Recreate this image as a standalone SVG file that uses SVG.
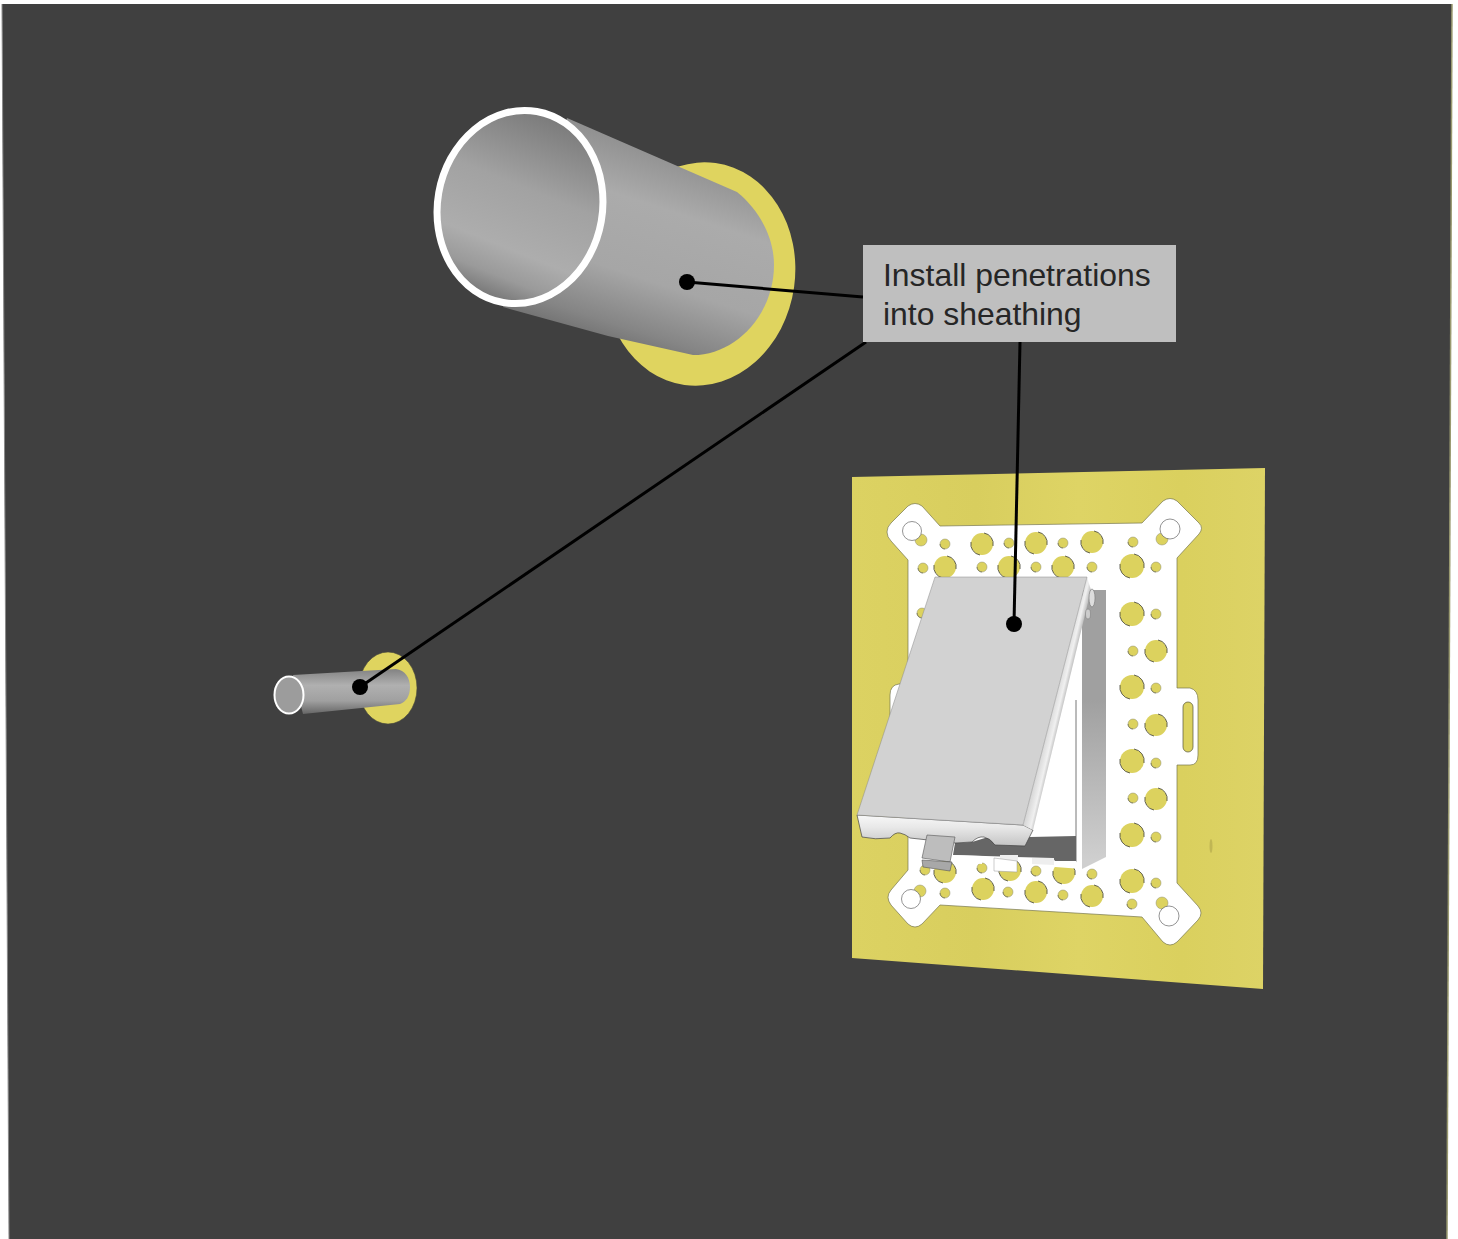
<svg xmlns="http://www.w3.org/2000/svg" width="1458" height="1239" viewBox="0 0 1458 1239">
<style>
.wh{fill:#fff;stroke:#666;stroke-width:.7}
.ln{stroke:#000;stroke-width:3;fill:none}
.lbl{font-family:"Liberation Sans",Arial,sans-serif;font-size:31.900px;fill:#262626}
.arc{fill:none;stroke:#3f3f30;stroke-width:.8}
.arcs{fill:none;stroke:#55553f;stroke-width:.6}
</style>
<defs>
<linearGradient id="bodyG" gradientUnits="userSpaceOnUse" x1="640" y1="130" x2="570" y2="345">
<stop offset="0" stop-color="#8a8a8a"/><stop offset=".3" stop-color="#ababab"/><stop offset=".62" stop-color="#a6a6a6"/><stop offset=".85" stop-color="#858585"/><stop offset="1" stop-color="#666"/>
</linearGradient>
<linearGradient id="innerG" gradientUnits="userSpaceOnUse" x1="540" y1="112" x2="500" y2="302">
<stop offset="0" stop-color="#7a7a7a"/><stop offset=".4" stop-color="#a2a2a2"/><stop offset=".72" stop-color="#adadad"/><stop offset=".87" stop-color="#9a9a9a"/><stop offset="1" stop-color="#747474"/>
</linearGradient>
<linearGradient id="smallG" gradientUnits="userSpaceOnUse" x1="0" y1="670" x2="0" y2="714">
<stop offset="0" stop-color="#858585"/><stop offset=".35" stop-color="#b0b0b0"/><stop offset=".7" stop-color="#a0a0a0"/><stop offset="1" stop-color="#666"/>
</linearGradient>
<linearGradient id="sideG" gradientUnits="userSpaceOnUse" x1="1055" y1="690" x2="1072" y2="694">
<stop offset="0" stop-color="#d4d4d4"/><stop offset=".45" stop-color="#f0f0f0"/><stop offset=".7" stop-color="#bcbcbc"/><stop offset="1" stop-color="#999"/>
</linearGradient>
<linearGradient id="lipG" gradientUnits="userSpaceOnUse" x1="0" y1="815" x2="0" y2="846">
<stop offset="0" stop-color="#f8f8f8"/><stop offset=".4" stop-color="#e8e8e8"/><stop offset="1" stop-color="#c4c4c4"/>
</linearGradient>
<linearGradient id="boxG" gradientUnits="userSpaceOnUse" x1="0" y1="700" x2="0" y2="860">
<stop offset="0" stop-color="#a0a0a0"/><stop offset="1" stop-color="#cfcfcf"/>
</linearGradient>
<linearGradient id="sheetG" gradientUnits="userSpaceOnUse" x1="852" y1="0" x2="1265" y2="0">
<stop offset="0" stop-color="#dcd262"/><stop offset=".3" stop-color="#d8ce5e"/><stop offset=".55" stop-color="#ded465"/><stop offset=".8" stop-color="#dad05e"/><stop offset="1" stop-color="#ddd366"/>
</linearGradient>
<g id="hb"><circle r="11" fill="#dcd25e"/><path class="arc" d="M-11,-2 A11,11 0 0 0 -2,11"/><path class="arc" d="M11,2 A11,11 0 0 0 2,-11"/></g>
<g id="hB"><circle r="12" fill="#dcd25e"/><path class="arc" d="M-12,-2 A12,12 0 0 0 -2,12"/><path class="arc" d="M12,2 A12,12 0 0 0 2,-12"/></g>
<g id="hs"><circle r="5" fill="#dcd25e" stroke="#8f8f70" stroke-width=".5"/><path class="arcs" d="M-5,0 A5,5 0 0 0 0,5"/></g>
<g id="hm"><circle r="6" fill="#dcd25e" stroke="#8f8f70" stroke-width=".5"/></g>
</defs>
<rect width="1458" height="1239" fill="#fff"/>
<polygon id="panel" points="2,4 1452,4 1447,1239 9,1239" fill="#404040"/>
<line x1="1452" y1="4" x2="1447" y2="1239" stroke="#9a9a70" stroke-width="1.500"/>
<line x1="2" y1="4" x2="9" y2="1239" stroke="#8a8a8a" stroke-width="1"/>
<g id="pipe-large">
<ellipse cx="700" cy="274" rx="95" ry="112" transform="rotate(8 700 274)" fill="#dfd45f"/>
<path d="M567,118 L737,192 C757,208 774,235 774,265 C774,315 735,355 693,355 L608,336 L503,307 Z" fill="url(#bodyG)"/>
<ellipse cx="520" cy="207" rx="82.500" ry="97" transform="rotate(10 520 207)" fill="url(#innerG)" stroke="#fff" stroke-width="7"/>
</g>
<g id="pipe-small">
<ellipse cx="388" cy="688" rx="29" ry="36" fill="#dfd45f" stroke="#4a4a3a" stroke-width=".6"/>
<path d="M293,675 L396,669 C405,670 410,678 410,687 C410,696 406,702 400,704 L303,714 Z" fill="url(#smallG)"/>
<ellipse cx="289" cy="695" rx="14.500" ry="18.500" fill="#9c9c9c" stroke="#fff" stroke-width="2"/>
</g>
<g id="sheet-assembly">
<polygon points="852,477 1265,468 1263,989 852,958" fill="url(#sheetG)"/>
<ellipse cx="1211" cy="846" rx="1.500" ry="7" fill="#b5ab4e" opacity=".7"/>
<path id="plate" d="M887,532 Q887,527 891,523 L908,506 Q915,501 922,506 L940,526 L1142,523 L1163,501 Q1170,496 1177,501 L1199,523 Q1204,528 1199,534 L1177,558 L1177,688 L1190,688 Q1198,690 1198,700 L1198,755 Q1198,765 1190,765 L1177,765 L1177,883 L1198,906 Q1204,913 1198,920 L1177,942 Q1170,948 1163,942 L1142,917 L940,905 L922,924 Q915,930 908,924 L891,905 Q885,897 891,890 L908,870 L908,765 L898,765 Q890,765 890,755 L890,695 Q890,685 899,684 L908,684 L908,560 L891,541 Q887,537 887,532 Z" fill="#fff" stroke="#77774f" stroke-width=".7"/>
<rect x="1183" y="702" width="10" height="50" rx="5" fill="#dcd25e" stroke="#55553a" stroke-width=".7"/>
<g id="holes-large">
<use href="#hb" x="982" y="544"/><use href="#hb" x="1036" y="543"/><use href="#hb" x="1092" y="542"/>
<use href="#hb" x="945" y="567"/><use href="#hb" x="1009" y="567"/><use href="#hb" x="1063" y="567"/><use href="#hB" x="1132" y="566"/>
<use href="#hB" x="1132" y="614"/><use href="#hb" x="1156" y="651"/><use href="#hB" x="1132" y="687"/><use href="#hb" x="1156" y="725"/>
<use href="#hB" x="1132" y="761"/><use href="#hb" x="1156" y="799"/><use href="#hB" x="1132" y="835"/><use href="#hB" x="1132" y="881"/>
<use href="#hb" x="983" y="889"/><use href="#hb" x="1036" y="892"/><use href="#hb" x="1092" y="896"/>
<use href="#hb" x="945" y="872"/><use href="#hb" x="1010" y="870"/><use href="#hb" x="1064" y="873"/>
</g>
<g id="holes-small">
<use href="#hs" x="945" y="544"/><use href="#hs" x="1009" y="543"/><use href="#hs" x="1063" y="543"/><use href="#hs" x="1133" y="542"/>
<use href="#hs" x="923" y="568"/><use href="#hs" x="982" y="567"/><use href="#hs" x="1036" y="567"/><use href="#hs" x="1092" y="567"/><use href="#hs" x="1156" y="567"/>
<use href="#hs" x="1156" y="614"/><use href="#hs" x="1133" y="651"/><use href="#hs" x="1156" y="688"/><use href="#hs" x="1133" y="724"/>
<use href="#hs" x="1156" y="763"/><use href="#hs" x="1133" y="798"/><use href="#hs" x="1156" y="837"/><use href="#hs" x="1156" y="883"/><use href="#hs" x="1132" y="904"/>
<use href="#hs" x="945" y="893"/><use href="#hs" x="1008" y="892"/><use href="#hs" x="1063" y="895"/>
<use href="#hs" x="925" y="870"/><use href="#hs" x="982" y="868"/><use href="#hs" x="1036" y="871"/><use href="#hs" x="1092" y="874"/><use href="#hs" x="922" y="613"/>
<use href="#hm" x="921" y="540"/><use href="#hm" x="1162" y="539"/><use href="#hm" x="920" y="891"/><use href="#hm" x="1162" y="903"/>
</g>
<g id="holes-corner">
<circle cx="912" cy="531" r="9.500" class="wh"/><circle cx="1170" cy="529" r="10" class="wh"/><circle cx="911" cy="899" r="9.500" class="wh"/><circle cx="1169" cy="916" r="10" class="wh"/>
</g>
</g>
<g id="box">
<polygon points="1082,590 1106,590 1106,857 1082,869" fill="url(#boxG)"/>
<polygon points="1076,640 1076,836 1030,838 1060,640" fill="#fff"/>
<line x1="1076" y1="700" x2="1076" y2="866" stroke="#777" stroke-width="1"/>
<polygon points="955,843 972,842 985,838 1030,837 1076,836 1076,861 1055,861 1053,858 953,855" fill="#666"/>
<polygon points="953,855 982,856 982,864 953,862" fill="#fff"/>
<polygon points="1055,861 1076,861 1082,869 1055,867" fill="#fff"/>
<polygon points="1032,858 1054,858 1054,865 1032,864" fill="#eee"/>
<polygon points="1000,855 1018,855 1018,861 1000,861" fill="#eee"/>
<polygon points="994,858 1017,861 1017,872 994,871" fill="#fff" stroke="#999" stroke-width=".5"/>
</g>
<g id="cover">
<path d="M857,815 L862,837 Q875,840 890,838 Q895,832 900,833 Q905,834 910,838 L955,843 L972,842 Q978,836 984,837 Q990,838 995,845 L1025,846 L1033,830 L1023,825 Z" fill="url(#lipG)" stroke="#444" stroke-width=".7"/>
<polygon points="1087,577 1091,590 1033,830 1023,825" fill="url(#sideG)"/>
<polygon points="935,577 1087,577 1023,825 857,815" fill="#d2d2d2" stroke="#8a8a8a" stroke-width=".5"/>
<ellipse cx="1092" cy="598" rx="3" ry="9" fill="#ddd" stroke="#777" stroke-width=".6"/>
<ellipse cx="1088" cy="614" rx="2.500" ry="5" fill="#ccc" stroke="#777" stroke-width=".5"/>
</g>
<g id="clip-tab">
<polygon points="927,835 955,837 950,862 922,858" fill="#bdbdbd" stroke="#555" stroke-width=".6"/>
<polygon points="922,860 952,862 950,871 923,867" fill="#a8a8a8" stroke="#555" stroke-width=".6"/>
</g>
<g id="connectors">
<line class="ln" x1="687" y1="282" x2="863" y2="297"/>
<line class="ln" x1="360" y1="687" x2="866" y2="342"/>
<line class="ln" x1="1020" y1="342" x2="1014" y2="624"/>
<circle cx="687" cy="282" r="8"/>
<circle cx="360" cy="687" r="8"/>
<circle cx="1014" cy="624" r="8"/>
</g>
<g id="callout">
<rect x="863" y="245" width="313" height="97" fill="#bfbfbf"/>
<text class="lbl" x="883" y="286">Install penetrations</text>
<text class="lbl" x="883" y="325">into sheathing</text>
</g>
</svg>
